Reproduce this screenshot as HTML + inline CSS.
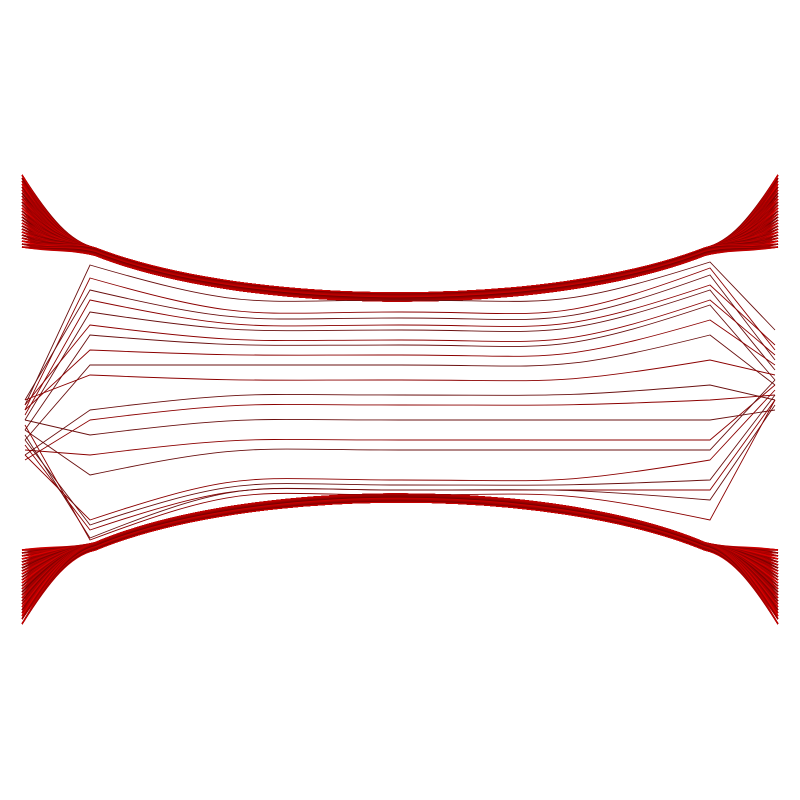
<!DOCTYPE html>
<html><head><meta charset="utf-8"><style>
html,body{margin:0;padding:0;background:#fff;width:800px;height:800px;overflow:hidden}
</style></head><body>
<svg id="chart" width="800" height="800" viewBox="0 0 800 800" xmlns="http://www.w3.org/2000/svg">
<g id="bundles"></g>
<g id="mid"></g>
</svg>
<script>
// bundle fan endpoints (y at left/right edges), band offsets
const topFanLeft = [175,178,181,184,187,190,193,196,199,202,205,208,211,214,217,220,223,226,229,232,235,238,241,244,247];
const topFanRight = [175,178,181,184,187,190,193,196,199,202,205,208,211,214,217,220,223,226,229,232,235,238,241,244,247];
const botFanLeft = [550,553,556,559,562,565,568,571,574,577,580,583,586,589,592,595,598,601,604,607,610,613,616,619,624];
const botFanRight = [550,553,556,559,562,565,568,571,574,577,580,583,586,589,592,595,598,601,604,607,610,613,616,619,624];
const bandOffsets = [0,1,2,3,4,5,6,7,8];
// middle paths: y at [left end, left knee, center, right knee, right end]
const midX = [25, 90, 400, 710, 775];
const midY = [
 [405,265,300,262,330],[410,278,312,268,350],[400,290,318,275,360],[415,300,325,285,345],
 [420,312,330,290,370],[405,325,340,300,355],[430,335,345,305,380],[410,350,355,320,365],
 [440,365,365,335,385],[400,375,380,360,375],[455,410,395,385,400],[460,420,405,400,395],
 [420,435,420,420,410],[450,455,440,440,385],[430,475,450,450,380],[455,520,480,460,390],
 [440,525,485,480,395],[445,530,490,490,400],[435,538,490,500,405],[425,540,495,520,400]
];
const NS='http://www.w3.org/2000/svg';
const gb=document.getElementById('bundles'), gm=document.getElementById('mid');
function drawBundle(fanL, fanR, kneeY, centerY, sign, name){
  for(let i=0;i<fanL.length;i++){
    for(const o of bandOffsets){
      const yk=kneeY+sign*o*0.9, yc=centerY+sign*o;
      const c=(yc-0.25*yk)/0.75;
      const d=`M22,${fanL[i]} C50,${fanL[i]+(yk-fanL[i])*0.6} 70,${yk-sign*6} 95,${yk} C250,${c} 550,${c} 705,${yk} C730,${yk-sign*6} 750,${fanR[i]+(yk-fanR[i])*0.6} 778,${fanR[i]}`;
      const p=document.createElementNS(NS,'path');
      p.setAttribute('d',d);
      p.setAttribute('fill','none');
      const r=120+((i*37+o*23)%100);
      p.setAttribute('stroke',`rgb(${r},0,0)`);
      p.setAttribute('stroke-width','1.3');
      
      
      gb.appendChild(p);
    }
  }
}
drawBundle(topFanLeft, topFanRight, 248, 293, 1, 'top-bundle-edge');
drawBundle(botFanLeft, botFanRight, 550, 502, -1, 'bottom-bundle-edge');
midY.forEach((ys,k)=>{
  const pts=ys.map((y,j)=>[midX[j],y]);
  const c=(pts[2][1]-0.25*pts[1][1])/0.75, c2=(pts[2][1]-0.25*pts[3][1])/0.75;
  const d=`M${pts[0]} L${pts[1]} C${250},${c} ${250},${pts[2][1]} 400,${pts[2][1]} C550,${pts[2][1]} 550,${c2} ${pts[3]} L${pts[4]}`;
  const p=document.createElementNS(NS,'path');
  p.setAttribute('d', d);
  p.setAttribute('fill','none');
  p.setAttribute('stroke', k%2?'#8b0000':'#6a1010');
  p.setAttribute('stroke-width','0.9');
  
  
  gm.appendChild(p);
});
</script>
</body></html>
